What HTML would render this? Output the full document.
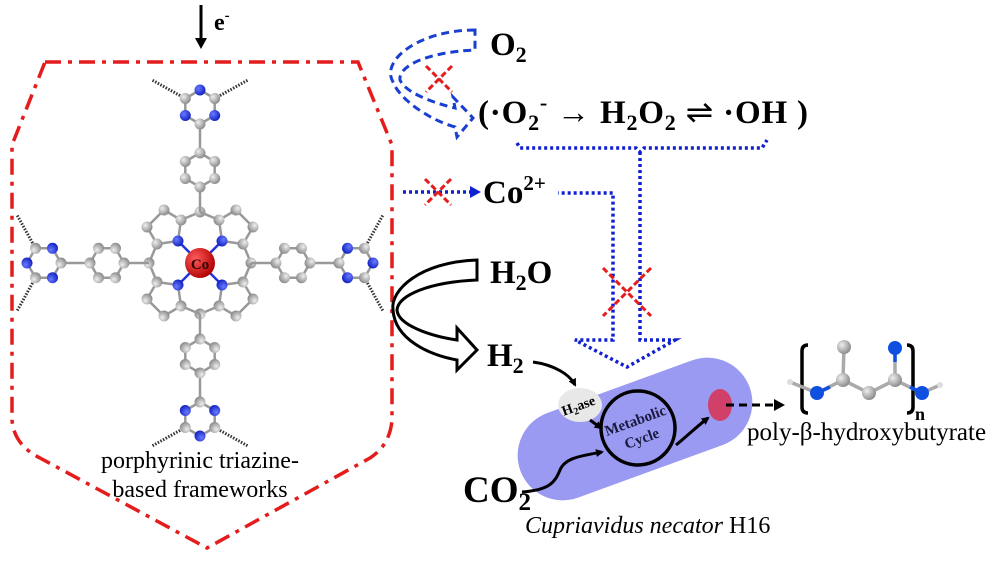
<!DOCTYPE html>
<html><head><meta charset="utf-8"><style>
html,body{margin:0;padding:0;background:#fff}
svg{display:block}
text{font-family:"Liberation Serif",serif}
.b{font-weight:bold}
</style></head><body>
<svg width="1000" height="561" viewBox="0 0 1000 561" xmlns="http://www.w3.org/2000/svg">
<defs>
<radialGradient id="gC" cx="35%" cy="35%" r="70%"><stop offset="0" stop-color="#eee"/><stop offset="1" stop-color="#888"/></radialGradient>
<radialGradient id="gN" cx="35%" cy="35%" r="70%"><stop offset="0" stop-color="#6a7aff"/><stop offset="1" stop-color="#1020c0"/></radialGradient>
<radialGradient id="gCo" cx="35%" cy="35%" r="70%"><stop offset="0" stop-color="#ff5a5a"/><stop offset="1" stop-color="#b00000"/></radialGradient>
<marker id="ah" markerWidth="8" markerHeight="8" refX="6" refY="4" orient="auto" markerUnits="userSpaceOnUse"><path d="M0,0 L8,4 L0,8 Z" fill="#000"/></marker>
<g id="quad">
 <g stroke="#999" stroke-width="2.5" fill="none">
  <path d="M-22,-22 L-19,-43 L-36,-53 L-53,-36 L-43,-19 Z"/>
  <path d="M-19,-43 L0,-51 M-43,-19 L-51,0"/>
  <path d="M-22,-22 L0,0" stroke="#2233dd"/>
 </g>
 <g fill="url(#gC)">
  <circle cx="-19" cy="-43" r="5.5"/><circle cx="-36" cy="-53" r="5.5"/><circle cx="-53" cy="-36" r="5.5"/><circle cx="-43" cy="-19" r="5.5"/><circle cx="0" cy="-51" r="5.5"/>
 </g>
 <circle cx="-22" cy="-22" r="5.5" fill="url(#gN)"/>
</g>
<g id="arm">
 <g stroke="#999" stroke-width="2.5" fill="none">
  <path d="M0,-51 L0,-76 M0,-110 L0,-139"/>
  <path d="M0,-110 L14.7,-101.5 L14.7,-84.5 L0,-76 L-14.7,-84.5 L-14.7,-101.5 Z"/>
  <path d="M0,-139 L14.7,-147.5 L14.7,-164.5 L0,-173 L-14.7,-164.5 L-14.7,-147.5 Z"/>
 </g>
 <path d="M14.7,-164.5 L48,-183 M-14.7,-164.5 L-48,-183" stroke="#333" stroke-width="3" stroke-dasharray="1.5 1.5" fill="none"/>
 <g fill="url(#gC)">
  <circle cx="0" cy="-110" r="5.5"/><circle cx="14.7" cy="-101.5" r="5.5"/><circle cx="14.7" cy="-84.5" r="5.5"/><circle cx="0" cy="-76" r="5.5"/><circle cx="-14.7" cy="-84.5" r="5.5"/><circle cx="-14.7" cy="-101.5" r="5.5"/>
  <circle cx="0" cy="-139" r="5.5"/><circle cx="14.7" cy="-164.5" r="5.5"/><circle cx="-14.7" cy="-164.5" r="5.5"/>
 </g>
 <g fill="url(#gN)">
  <circle cx="14.7" cy="-147.5" r="5.5"/><circle cx="-14.7" cy="-147.5" r="5.5"/><circle cx="0" cy="-173" r="5.5"/>
 </g>
</g>
</defs>

<line x1="201" y1="5" x2="201" y2="40" stroke="#000" stroke-width="3"/>
<path d="M195,38 L207,38 L201,49 Z" fill="#000"/>
<text x="214" y="30" class="b" font-size="24">e<tspan font-size="15" dy="-10">-</tspan></text>

<path d="M45,62 L358,62 L392,145 L392,420 Q390,445 370,458 L207,548 L40,458 Q14,445 12,420 L12,145 Z" fill="none" stroke="#e41c1c" stroke-width="3.5" stroke-dasharray="16 7 4 7"/>

<g transform="translate(200,263)">
 <use href="#quad"/><use href="#quad" transform="rotate(90)"/><use href="#quad" transform="rotate(180)"/><use href="#quad" transform="rotate(270)"/>
 <use href="#arm"/><use href="#arm" transform="rotate(90)"/><use href="#arm" transform="rotate(180)"/><use href="#arm" transform="rotate(270)"/>
 <circle cx="0" cy="0" r="15" fill="url(#gCo)"/>
 <text x="0" y="6" text-anchor="middle" class="b" font-size="15" fill="#300">Co</text>
</g>
<text x="200" y="468" text-anchor="middle" font-size="24">porphyrinic triazine-</text>
<text x="200" y="497" text-anchor="middle" font-size="24">based frameworks</text>

<path d="M475,30 C420,30 380,60 393,82 C400,100 430,120 455,127 L457,137 L473,118 L453,97 L455,108 C430,102 405,92 400,80 C398,65 430,52 475,50 Z" fill="none" stroke="#1a3fd0" stroke-width="3" stroke-dasharray="8 5"/>
<g stroke="#e41c1c" stroke-width="3" stroke-dasharray="6 3"><line x1="426" y1="66" x2="452" y2="92"/><line x1="452" y1="66" x2="426" y2="92"/></g>
<text x="490" y="55" class="b" font-size="33">O<tspan font-size="22" dy="7">2</tspan></text>
<text x="478" y="123" class="b" font-size="33" textLength="330" lengthAdjust="spacing">(·O<tspan font-size="22" dy="7">2</tspan><tspan font-size="22" dy="-20">-</tspan><tspan dy="13" font-weight="normal"> → </tspan>H<tspan font-size="22" dy="7">2</tspan><tspan dy="-7">O</tspan><tspan font-size="22" dy="7">2</tspan><tspan dy="-7" font-weight="normal"> ⇌ </tspan>·OH )</text>

<g fill="none" stroke="#1020d0" stroke-width="3.5" stroke-dasharray="3 3">
 <path d="M517,143 L520,148 L636,148 L640,152 L644,148 L762,148 L767,140"/>
 <path d="M640,152 L640,340 L675,340 L627,367 L575,340 L613,340 L613,193 L558,193"/>
 <line x1="403" y1="192" x2="472" y2="192"/>
</g>
<path d="M470,186 L481,192 L470,198 Z" fill="#1020d0"/>
<g stroke="#e41c1c" stroke-width="3" stroke-dasharray="6 3"><line x1="425" y1="179" x2="451" y2="205"/><line x1="451" y1="179" x2="425" y2="205"/>
<line x1="603" y1="268" x2="651" y2="316"/><line x1="651" y1="268" x2="603" y2="316"/></g>
<text x="483" y="203" class="b" font-size="33">Co<tspan font-size="21" dy="-13">2+</tspan></text>

<path d="M477,260 C420,262 390,290 393,310 C395,340 430,355 457,360 L457,370 L477,350 L457,328 L457,340 C430,336 398,325 397,310 C398,295 430,282 477,280 Z" fill="#fff" stroke="#000" stroke-width="3"/>
<text x="490" y="283" class="b" font-size="33">H<tspan font-size="22" dy="7">2</tspan><tspan dy="-7">O</tspan></text>
<text x="487" y="366" class="b" font-size="33">H<tspan font-size="22" dy="7">2</tspan></text>

<rect x="513" y="384" width="244" height="90" rx="45" fill="#9a9af2" transform="rotate(-20 635 429)"/>
<circle cx="638" cy="428" r="37" fill="none" stroke="#000" stroke-width="3.5"/>
<text transform="translate(638,428) rotate(-20)" text-anchor="middle" class="b" font-size="15" fill="#1a1a40"><tspan x="0" y="-3">Metabolic</tspan><tspan x="0" y="16">Cycle</tspan></text>
<ellipse cx="580" cy="405" rx="22" ry="17" fill="#e8e8e8"/>
<text transform="translate(580,410) rotate(-20)" text-anchor="middle" class="b" font-size="14">H<tspan font-size="10" dy="3">2</tspan><tspan dy="-3">ase</tspan></text>
<ellipse cx="720" cy="405" rx="12" ry="16" fill="#d04068"/>
<g fill="none" stroke="#000" stroke-width="3">
 <path d="M533,362 C555,365 570,375 575,385" marker-end="url(#ah)"/>
 <path d="M590,420 L601,428" marker-end="url(#ah)"/>
 <path d="M522,492 C550,490 555,482 560,470 C565,458 580,456 602,452" marker-end="url(#ah)"/>
 <path d="M676,445 C685,438 695,428 708,418" marker-end="url(#ah)"/>
 <line x1="726" y1="405" x2="776" y2="405" stroke-dasharray="8 5"/>
</g>
<path d="M774,399 L785,405 L774,411 Z" fill="#000"/>
<text x="463" y="502" class="b" font-size="37">CO<tspan font-size="25" dy="8">2</tspan></text>
<text x="525" y="533" font-size="24"><tspan font-style="italic">Cupriavidus necator</tspan> H16</text>

<g fill="none" stroke="#000" stroke-width="3.5">
 <path d="M808,345 Q802,345 802,351 L802,407 Q802,413 808,413"/>
 <path d="M907,345 Q913,345 913,351 L913,407 Q913,413 907,413"/>
</g>
<g stroke="#aaa" stroke-width="3.5" fill="none"><path d="M790,382 L817,393 L843,380 L869,393 L895,380 L922,393 L940,385 M843,380 L844,347 M895,380 L895,348"/></g>
<g stroke="#1050e0" stroke-width="3.5"><line x1="817" y1="393" x2="830" y2="387"/><line x1="895" y1="362" x2="895" y2="348"/><line x1="910" y1="387" x2="922" y2="393"/></g>
<g fill="url(#gC)"><circle cx="843" cy="380" r="7"/><circle cx="844" cy="347" r="7"/><circle cx="869" cy="393" r="7"/><circle cx="895" cy="380" r="7"/></g>
<g fill="#1050e0"><circle cx="817" cy="393" r="7"/><circle cx="895" cy="348" r="7"/><circle cx="922" cy="393" r="7"/></g>
<circle cx="790" cy="382" r="3" fill="#ddd"/><circle cx="940" cy="385" r="3" fill="#ddd"/>
<text x="915" y="420" class="b" font-size="18">n</text>
<text x="747" y="440" font-size="25">poly-β-hydroxybutyrate</text>
</svg>
</body></html>
